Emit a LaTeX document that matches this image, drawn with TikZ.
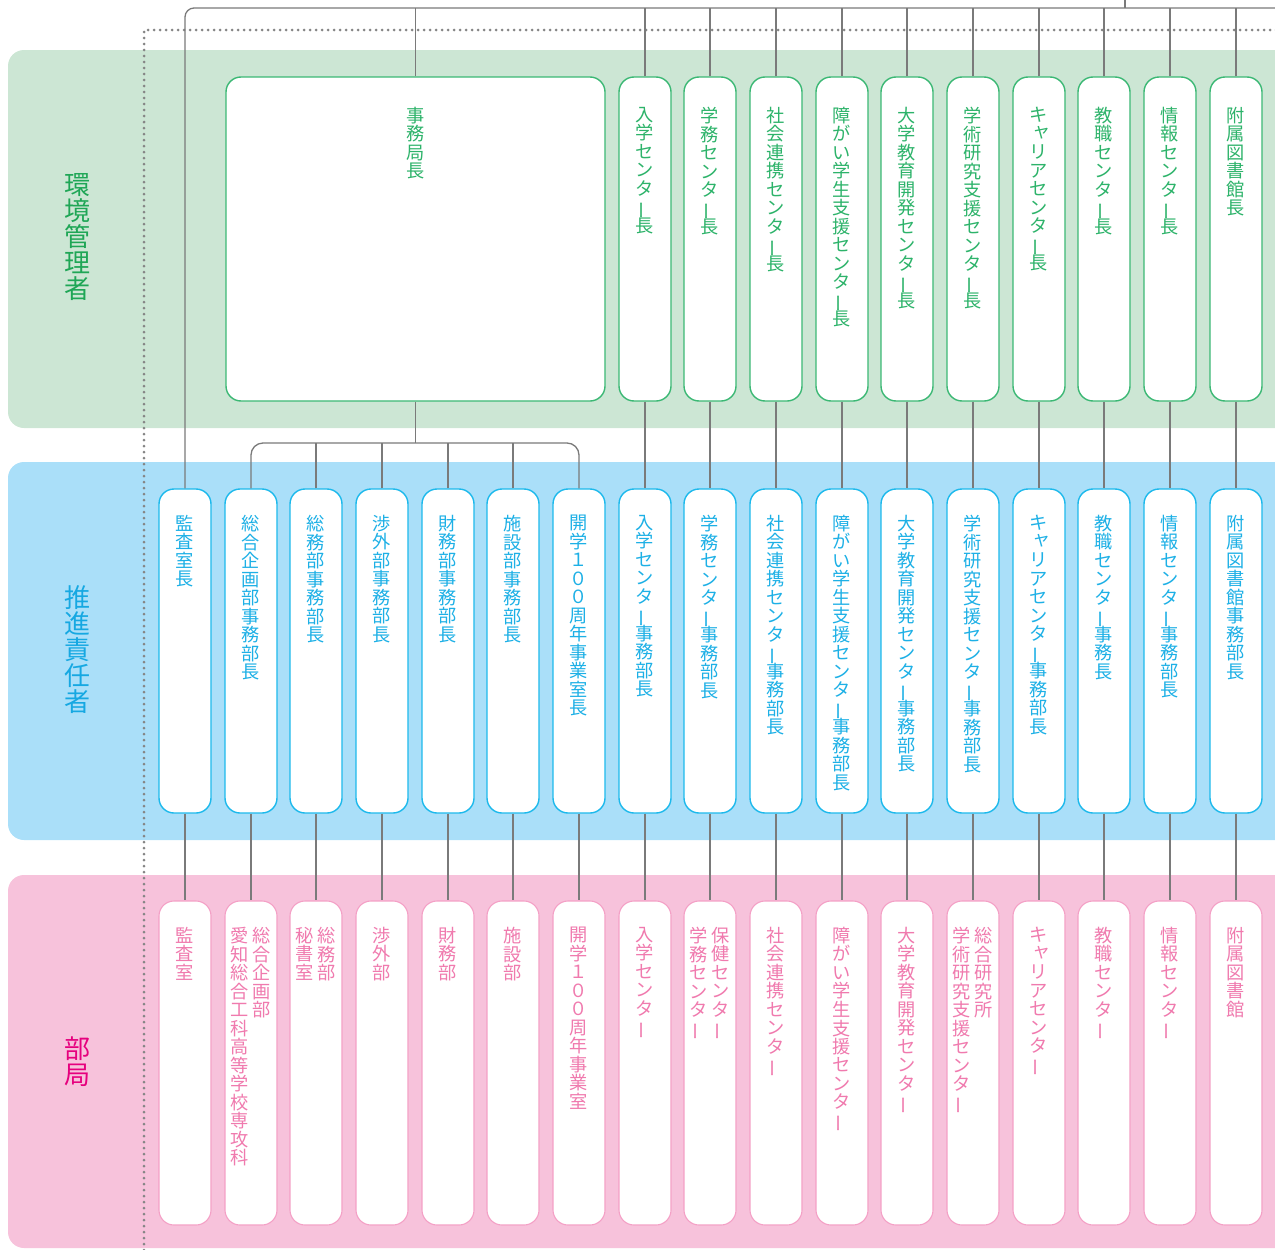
\documentclass[tikz,border=0pt]{standalone}
\usepackage{fontspec}
\usepackage{graphicx}
\newfontfamily\jp{Noto Sans CJK JP}
\definecolor{gband}{HTML}{CCE6D4}
\definecolor{bband}{HTML}{AADFF9}
\definecolor{pband}{HTML}{F7C2DB}
\definecolor{gline}{HTML}{3BB874}
\definecolor{bline}{HTML}{1CB9EC}
\definecolor{pline}{HTML}{F4A0C6}
\definecolor{gtext}{HTML}{2DB36A}
\definecolor{btext}{HTML}{1DB0E6}
\definecolor{ptext}{HTML}{F07AAE}
\definecolor{glab}{HTML}{1FA656}
\definecolor{blab}{HTML}{16A8E2}
\definecolor{plab}{HTML}{E6007E}
\definecolor{conncol}{HTML}{7A7A7A}
\definecolor{dotcol}{HTML}{858585}
\newcommand\chouon{\rotatebox[origin=c]{90}{ー}}
\newcommand\smallya{\raisebox{0.12em}{\kern0.25em ャ}}
\tikzset{
  boxbase/.style={fill=white, rounded corners=15pt, minimum width=52pt, inner sep=0pt},
  gbox/.style={boxbase, draw=gline, line width=1.4pt, minimum height=324pt},
  bbox/.style={boxbase, draw=bline, line width=1.4pt, minimum height=324pt},
  pbox/.style={boxbase, draw=pline, line width=1.1pt, minimum height=324pt},
  txtbase/.style={font={\jp\fontsize{18.2}{18.5}\selectfont\lineskiplimit=-50pt\relax}, align=center, inner sep=0pt, anchor=north},
  gtxt/.style={txtbase, text=gtext},
  btxt/.style={txtbase, text=btext},
  ptxt/.style={txtbase, text=ptext},
  lbl/.style={font={\jp\fontsize{26}{26}\selectfont\lineskiplimit=-50pt\relax}, align=center, inner sep=0pt},
  conn/.style={draw=conncol, line width=1.3pt},
  dots/.style={draw=dotcol, line width=3pt, line cap=round, dash pattern=on 0pt off 6pt}
}
\newcommand\gcol[3]{\node[gbox] (g-#1) at (#2,239) {};\node[gtxt] (gt-#1) at (#2,107) {#3};}
\newcommand\bcol[3]{\node[bbox] (b-#1) at (#2,651) {};\node[btxt] (bt-#1) at (#2,515) {#3};}
\newcommand\pcol[3]{\node[pbox] (p-#1) at (#2,1063) {};\node[ptxt] (pt-#1) at (#2,927) {#3};}
\newcommand\pcoltwo[4]{\node[pbox] (p-#1) at (#2,1063) {};\node[ptxt] (pr-#1) at (#2+11,927) {#3};\node[ptxt] (pl-#1) at (#2-11,927) {#4};}
\begin{document}
\begin{tikzpicture}[x=1pt,y=-1pt]
\useasboundingbox (0,0) rectangle (1275,1250);
\clip (0,0) rectangle (1275,1250);
% bands
\fill[gband, rounded corners=16pt] (8,50) rectangle (1310,428);
\fill[bband, rounded corners=16pt] (8,462) rectangle (1310,840);
\fill[pband, rounded corners=16pt] (8,875) rectangle (1310,1248);
% dotted frame
\draw[dots] (144,1250) -- (144,30) -- (1280,30);
% side labels
\node[lbl, text=glab] (lab-g) at (77,237) {環\\境\\管\\理\\者};
\node[lbl, text=blab] (lab-b) at (77,650) {推\\進\\責\\任\\者};
\node[lbl, text=plab] (lab-p) at (77,1062) {部\\局};
% green row
\node[gbox, minimum width=379pt] (g-jim) at (415.5,239) {};
\node[gtxt] (gt-jim) at (415.5,107) {事\\務\\局\\長};
\gcol{nyu}{645}{入\\学\\セ\\ン\\タ\\\chouon\\長}
\gcol{gak}{710}{学\\務\\セ\\ン\\タ\\\chouon\\長}
\gcol{sha}{776}{社\\会\\連\\携\\セ\\ン\\タ\\\chouon\\長}
\gcol{shg}{842}{障\\が\\い\\学\\生\\支\\援\\セ\\ン\\タ\\\chouon\\長}
\gcol{dai}{907}{大\\学\\教\\育\\開\\発\\セ\\ン\\タ\\\chouon\\長}
\gcol{gaj}{973}{学\\術\\研\\究\\支\\援\\セ\\ン\\タ\\\chouon\\長}
\gcol{car}{1039}{キ\\\smallya\\リ\\ア\\セ\\ン\\タ\\\chouon\\長}
\gcol{kyo}{1104}{教\\職\\セ\\ン\\タ\\\chouon\\長}
\gcol{joh}{1170}{情\\報\\セ\\ン\\タ\\\chouon\\長}
\gcol{fuz}{1236}{附\\属\\図\\書\\館\\長}
% blue row
\bcol{kan}{185}{監\\査\\室\\長}
\bcol{sog}{251}{総\\合\\企\\画\\部\\事\\務\\部\\長}
\bcol{som}{316}{総\\務\\部\\事\\務\\部\\長}
\bcol{sho}{382}{渉\\外\\部\\事\\務\\部\\長}
\bcol{zai}{448}{財\\務\\部\\事\\務\\部\\長}
\bcol{shi}{513}{施\\設\\部\\事\\務\\部\\長}
\bcol{kai}{579}{開\\学\\１\\０\\０\\周\\年\\事\\業\\室\\長}
\bcol{nyu}{645}{入\\学\\セ\\ン\\タ\\\chouon\\事\\務\\部\\長}
\bcol{gak}{710}{学\\務\\セ\\ン\\タ\\\chouon\\事\\務\\部\\長}
\bcol{sha}{776}{社\\会\\連\\携\\セ\\ン\\タ\\\chouon\\事\\務\\部\\長}
\bcol{shg}{842}{障\\が\\い\\学\\生\\支\\援\\セ\\ン\\タ\\\chouon\\事\\務\\部\\長}
\bcol{dai}{907}{大\\学\\教\\育\\開\\発\\セ\\ン\\タ\\\chouon\\事\\務\\部\\長}
\bcol{gaj}{973}{学\\術\\研\\究\\支\\援\\セ\\ン\\タ\\\chouon\\事\\務\\部\\長}
\bcol{car}{1039}{キ\\\smallya\\リ\\ア\\セ\\ン\\タ\\\chouon\\事\\務\\部\\長}
\bcol{kyo}{1104}{教\\職\\セ\\ン\\タ\\\chouon\\事\\務\\長}
\bcol{joh}{1170}{情\\報\\セ\\ン\\タ\\\chouon\\事\\務\\部\\長}
\bcol{fuz}{1236}{附\\属\\図\\書\\館\\事\\務\\部\\長}
% pink row
\pcol{kan}{185}{監\\査\\室}
\pcoltwo{sog}{251}{総\\合\\企\\画\\部}{愛\\知\\総\\合\\工\\科\\高\\等\\学\\校\\専\\攻\\科}
\pcoltwo{som}{316}{総\\務\\部}{秘\\書\\室}
\pcol{sho}{382}{渉\\外\\部}
\pcol{zai}{448}{財\\務\\部}
\pcol{shi}{513}{施\\設\\部}
\pcol{kai}{579}{開\\学\\１\\０\\０\\周\\年\\事\\業\\室}
\pcol{nyu}{645}{入\\学\\セ\\ン\\タ\\\chouon}
\pcoltwo{gak}{710}{保\\健\\セ\\ン\\タ\\\chouon}{学\\務\\セ\\ン\\タ\\\chouon}
\pcol{sha}{776}{社\\会\\連\\携\\セ\\ン\\タ\\\chouon}
\pcol{shg}{842}{障\\が\\い\\学\\生\\支\\援\\セ\\ン\\タ\\\chouon}
\pcol{dai}{907}{大\\学\\教\\育\\開\\発\\セ\\ン\\タ\\\chouon}
\pcoltwo{gaj}{973}{総\\合\\研\\究\\所}{学\\術\\研\\究\\支\\援\\セ\\ン\\タ\\\chouon}
\pcol{car}{1039}{キ\\\smallya\\リ\\ア\\セ\\ン\\タ\\\chouon}
\pcol{kyo}{1104}{教\\職\\セ\\ン\\タ\\\chouon}
\pcol{joh}{1170}{情\\報\\セ\\ン\\タ\\\chouon}
\pcol{fuz}{1236}{附\\属\\図\\書\\館}
% connectors
\coordinate (topr) at (1280,8);
\coordinate (parent) at (1125,-2);
\coordinate (brk) at (415.5,443);
\draw[conn, rounded corners=9pt] (b-kan.north) |- (topr);
\draw[conn] (parent) -- (parent |- topr);
\foreach \id in {jim,nyu,gak,sha,shg,dai,gaj,car,kyo,joh,fuz}
  \draw[conn] (g-\id.north) -- (g-\id.north |- topr);
\draw[conn] (g-jim.south) -- (brk);
\draw[conn, rounded corners=12pt] (b-sog.north) |- (brk) -| (b-kai.north);
\foreach \id in {som,sho,zai,shi}
  \draw[conn] (b-\id.north) -- (b-\id.north |- brk);
\foreach \id in {nyu,gak,sha,shg,dai,gaj,car,kyo,joh,fuz}
  \draw[conn] (g-\id.south) -- (b-\id.north);
\foreach \id in {kan,sog,som,sho,zai,shi,kai,nyu,gak,sha,shg,dai,gaj,car,kyo,joh,fuz}
  \draw[conn] (b-\id.south) -- (p-\id.north);
\end{tikzpicture}
\end{document}
